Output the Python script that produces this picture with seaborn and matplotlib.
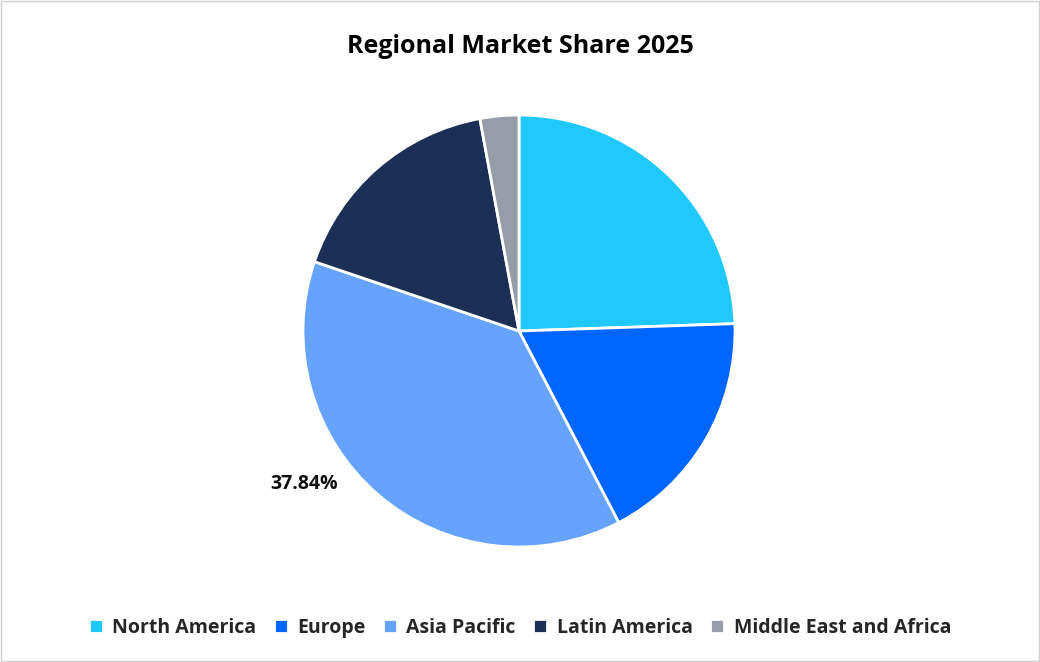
import matplotlib
matplotlib.use("Agg")
import matplotlib.pyplot as plt
import seaborn as sns
import numpy as np

regions = ["North America", "Europe", "Asia Pacific", "Latin America", "Middle East and Africa"]
shares = [24.46, 17.90, 37.84, 16.90, 2.90]
colors = ["#1FC8FD", "#0066FF", "#66A3FF", "#1C3057", "#979DA8"]
shown_label = "37.84%"

sns.set_theme(style="white")
plt.rcParams['font.family'] = ['Open Sans', 'DejaVu Sans']

fig = plt.figure(figsize=(10.4, 6.62), dpi=100)
fig.patches.append(plt.Rectangle((0.001, 0.0015), 0.998, 0.997, transform=fig.transFigure,
                                 fill=False, edgecolor="#D0D0D0", linewidth=1))
ax = fig.add_axes([303 / 1040, 115 / 662, 432 / 1040, 432 / 662])
wedges, _ = ax.pie(shares, colors=colors, startangle=90, counterclock=False,
                   wedgeprops=dict(edgecolor="white", linewidth=2))
ax.set_xlim(-1, 1)
ax.set_ylim(-1, 1)
ax.set_aspect("equal")

# label for Asia Pacific, placed outside the slice
w = wedges[2]
ang = np.deg2rad((w.theta1 + w.theta2) / 2 - 14)
ax.text(1.22 * np.cos(ang), 1.22 * np.sin(ang), shown_label, ha="center", va="center",
        fontsize=14, fontweight="bold", color="#111111")

fig.suptitle("Regional Market Share 2025", y=0.948, fontsize=18, fontweight="bold", color="black")
fig.legend(wedges, regions, loc="lower center", ncol=5, frameon=False,
           bbox_to_anchor=(0.5, 0.01), handlelength=0.7, handleheight=0.7,
           handletextpad=0.5, columnspacing=0.9, prop=dict(size=14, weight="bold"))

fig.savefig("out.png", dpi=100)
